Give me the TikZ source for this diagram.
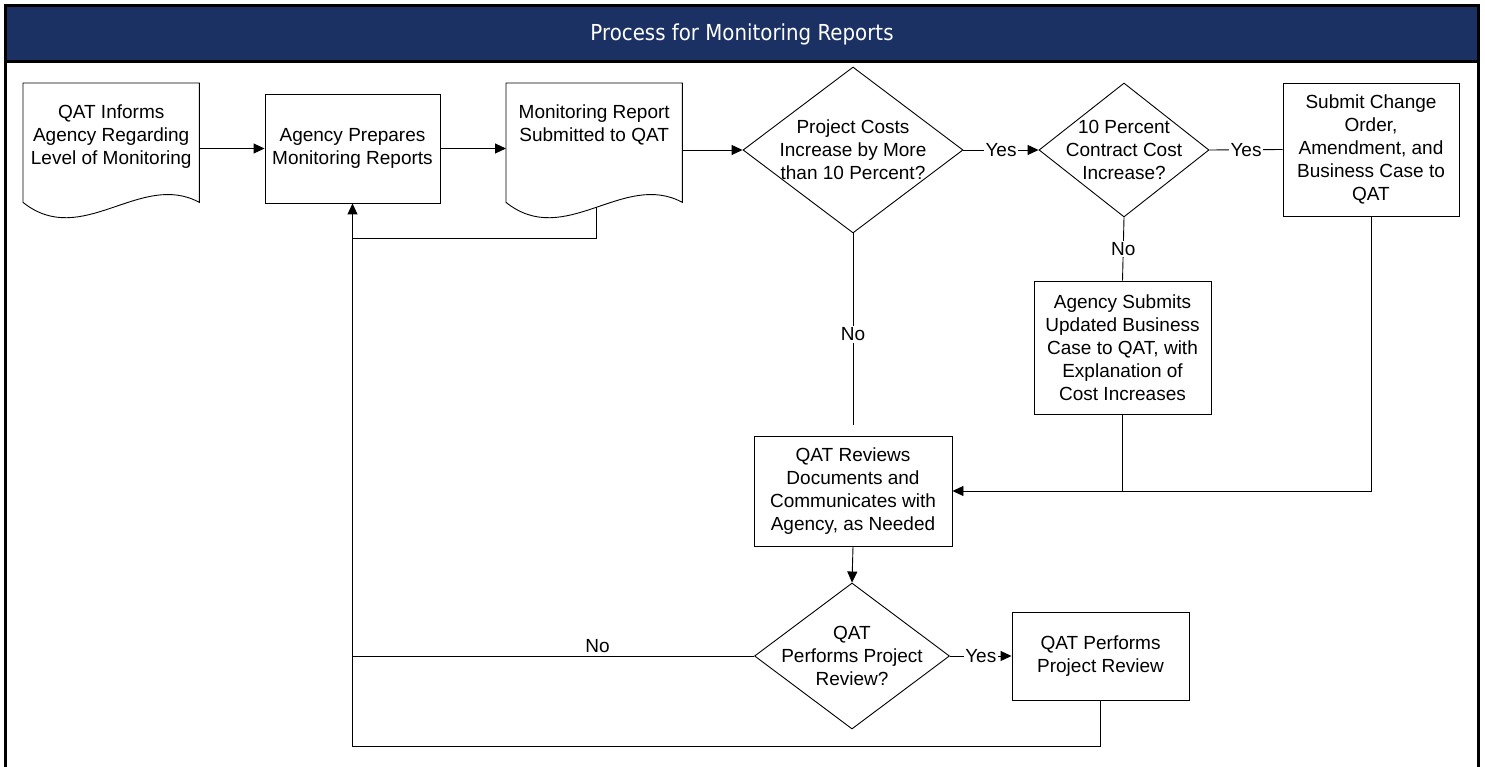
\documentclass[tikz,border=0pt]{standalone}
\usepackage{fontspec}
\setmainfont{Liberation Sans}
\newfontfamily\titlefont[FakeStretch=0.9]{DejaVu Sans}
\usetikzlibrary{arrows.meta,shapes.geometric}
\definecolor{hdr}{RGB}{27,49,100}
\begin{document}
\begin{tikzpicture}[x=1pt,y=-1pt,
  every node/.style={font=\fontsize{19}{23}\selectfont, align=center, inner sep=0pt},
  box/.style={draw, line width=0.9pt},
  dia/.style={draw, diamond, line width=0.9pt, inner sep=0pt},
  docline/.style={draw, line width=0.9pt},
  conn/.style={line width=0.9pt},
  arr/.style={conn, -{Triangle[length=11pt,width=10pt]}},
  lbl/.style={fill=white, inner sep=1.5pt}]
\useasboundingbox (0,0) rectangle (1485,767);
% frame and header
\fill[hdr] (5,6) rectangle (1478.5,62);
\draw[line width=3pt] (5,767) -- (5,6) -- (1478.5,6) -- (1478.5,767);
\draw[line width=3pt] (5,62) -- (1478.5,62);
\node[white, font=\titlefont\fontsize{22}{26}\selectfont] (title) at (742,34) {Process for Monitoring Reports};

% documents
\node[minimum width=176, minimum height=119, anchor=north west] (d1) at (23,83) {};
\draw[docline] (d1.south west) -- (d1.north west) -- (d1.north east) -- (d1.south east)
  .. controls +(-59,-32) and +(59,47) .. (d1.south west) -- cycle;
\node[anchor=north] (d1t) at ([yshift=-22pt]d1.north) {QAT Informs\\Agency Regarding\\Level of Monitoring};

\node[minimum width=176, minimum height=119, anchor=north west] (d3) at (506,83) {};
\draw[docline] (d3.south west) -- (d3.north west) -- (d3.north east) -- (d3.south east)
  .. controls +(-59,-32) and +(59,47) .. (d3.south west) -- cycle;
\node[anchor=north] (d3t) at ([yshift=-22pt]d3.north) {Monitoring Report\\Submitted to QAT};
\coordinate (d3b) at (596,207);

% boxes
\node[box, minimum width=175, minimum height=109] (b2) at (352.5,148.5) {Agency Prepares\\Monitoring Reports};
\node[box, minimum width=176, minimum height=133] (sub) at (1371,149.5) {Submit Change\\Order,\\Amendment, and\\Business Case to\\QAT};
\node[box, minimum width=177, minimum height=133] (as) at (1122.5,347.5) {Agency Submits\\Updated Business\\Case to QAT, with\\Explanation of\\Cost Increases};
\node[box, minimum width=198, minimum height=110] (rev) at (853,491) {QAT Reviews\\Documents and\\Communicates with\\Agency, as Needed};
\node[box, minimum width=177, minimum height=88] (perf) at (1100.5,656) {QAT Performs\\Project Review};

% decisions
\node[dia, minimum width=220, minimum height=166,
  label={center:{Project Costs\\Increase by More\\than 10 Percent?}}] (p1) at (853,150) {};
\node[dia, minimum width=170, minimum height=134,
  label={center:{10 Percent\\Contract Cost\\Increase?}}] (p2) at (1124,150) {};
\node[dia, minimum width=195, minimum height=146,
  label={center:{QAT\\Performs Project\\Review?}}] (p3) at (852,656) {};

% connectors
\coordinate (cb) at (352.5,746);
\coordinate (fb) at (352.5,238);
\draw[arr] (d1.east |- b2.west) -- (b2.west);
\draw[arr] (b2.east) -- (b2.east -| d3.west);
\draw[arr] (d3.east |- p1.west) -- (p1.west);
\draw[arr] (p1.east) -- node[lbl] {Yes} (p2.west);
\draw[conn] (p2.east) -- node[lbl] {Yes} (sub.west);
\draw[conn] (p2.south) -- node[lbl] {No} (as.north);
\draw[conn, shorten >=11pt] (p1.south) -- node[lbl] {No} (rev.north);
\draw[arr] (as.south) |- (rev.east);
\draw[conn] (sub.south) |- (as.south |- rev.east);
\draw[arr] (rev.south) -- (p3.north);
\draw[arr] (p3.east) -- node[lbl] {Yes} (perf.west);
\draw[conn] (p3.west) -- node[pos=0.39, above=3pt] {No} (p3.west -| cb);
\draw[conn] (d3b) |- (fb);
\draw[arr] (perf.south) |- (cb) -- (b2.south);
\end{tikzpicture}
\end{document}
